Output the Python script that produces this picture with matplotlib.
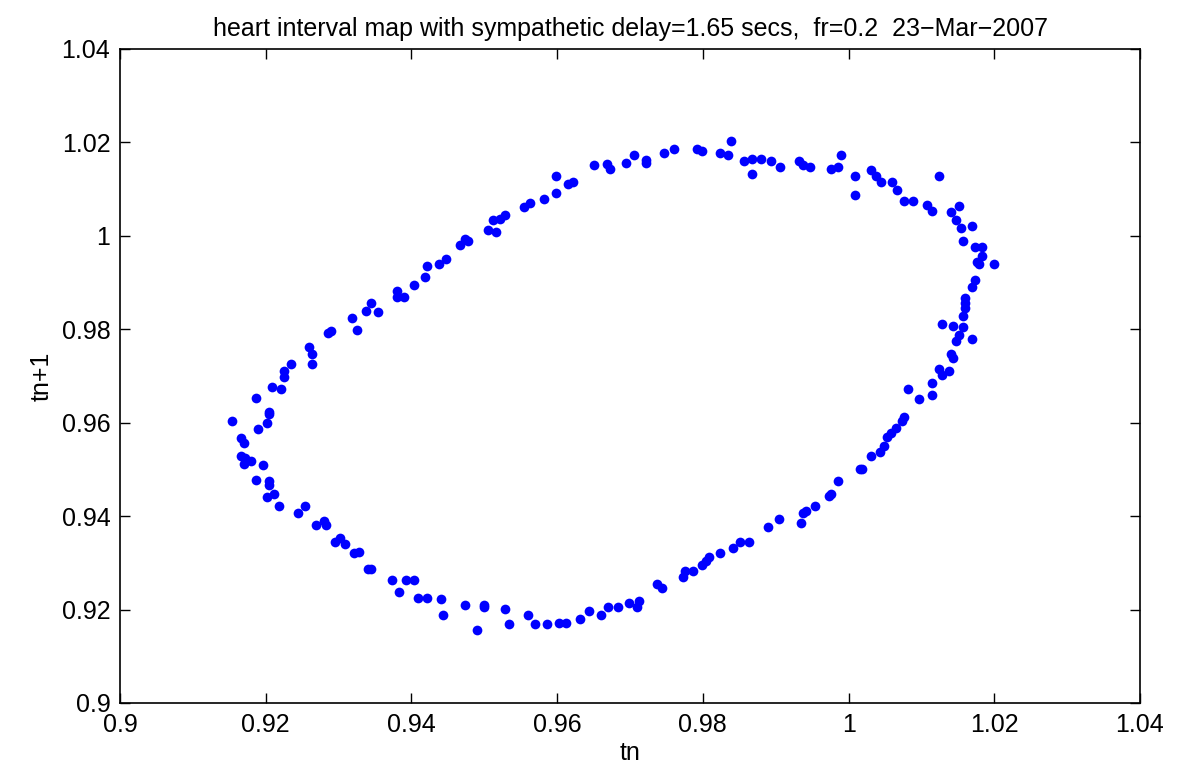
import numpy as np
import matplotlib
matplotlib.use("Agg")
import matplotlib.pyplot as plt

# successive heart intervals: tn on x, tn+1 on y
tn = [
    0.9344, 0.9338, 0.9354, 0.9318, 0.9325, 0.9285, 0.9290, 0.9260, 0.9264, 0.9264,
    0.9235, 0.9225, 0.9225, 0.9209, 0.9221, 0.9186, 0.9205, 0.9205, 0.9154, 0.9202,
    0.9189, 0.9166, 0.9170, 0.9166, 0.9171, 0.9170, 0.9180, 0.9196, 0.9186, 0.9205,
    0.9205, 0.9212, 0.9202, 0.9218, 0.9254, 0.9244, 0.9269, 0.9280, 0.9283, 0.9295,
    0.9302, 0.9309, 0.9321, 0.9328, 0.9341, 0.9344, 0.9373, 0.9383, 0.9392, 0.9403,
    0.9409, 0.9421, 0.9441, 0.9444, 0.9473, 0.9499, 0.9500, 0.9490, 0.9528, 0.9534,
    0.9560, 0.9570, 0.9586, 0.9602, 0.9612, 0.9631, 0.9644, 0.9660, 0.9670, 0.9683,
    0.9699, 0.9709, 0.9712, 0.9737, 0.9744, 0.9773, 0.9776, 0.9786, 0.9799, 0.9805,
    0.9808, 0.9824, 0.9841, 0.9851, 0.9863, 0.9889, 0.9905, 0.9935, 0.9938, 0.9941,
    0.9954, 0.9973, 0.9976, 0.9986, 1.0016, 1.0018, 1.0031, 1.0043, 1.0049, 1.0053,
    1.0058, 1.0065, 1.0073, 1.0076, 1.0096, 1.0082, 1.0115, 1.0115, 1.0128, 1.0124,
    1.0138, 1.0141, 1.0144, 1.0151, 1.0147, 1.0170, 1.0128, 1.0144, 1.0157, 1.0157,
    1.0160, 1.0160, 1.0160, 1.0170, 1.0173, 1.0176, 1.0179, 1.0199, 1.0183, 1.0173,
    1.0183, 1.0157, 1.0154, 1.0170, 1.0147, 1.0141, 1.0151, 1.0108, 1.0115, 1.0076,
    1.0089, 1.0067, 1.0060, 1.0044, 1.0038, 1.0031, 1.0124, 1.0009, 1.0009, 0.9989,
    0.9986, 0.9976, 0.9947, 0.9938, 0.9932, 0.9906, 0.9893, 0.9880, 0.9867, 0.9856,
    0.9867, 0.9838, 0.9835, 0.9824, 0.9799, 0.9792, 0.9760, 0.9747, 0.9722, 0.9722,
    0.9705, 0.9695, 0.9669, 0.9673, 0.9651, 0.9622, 0.9615, 0.9599, 0.9599, 0.9582,
    0.9563, 0.9554, 0.9528, 0.9522, 0.9512, 0.9505, 0.9516, 0.9467, 0.9473, 0.9477,
    0.9447, 0.9438, 0.9422, 0.9419, 0.9403, 0.9380, 0.9380, 0.9390,
]
tn1 = [
    0.9857, 0.9840, 0.9836, 0.9824, 0.9799, 0.9791, 0.9796, 0.9763, 0.9747, 0.9726,
    0.9726, 0.9710, 0.9697, 0.9677, 0.9672, 0.9652, 0.9623, 0.9619, 0.9603, 0.9599,
    0.9587, 0.9567, 0.9557, 0.9529, 0.9525, 0.9512, 0.9517, 0.9509, 0.9478, 0.9475,
    0.9467, 0.9447, 0.9440, 0.9422, 0.9422, 0.9406, 0.9381, 0.9390, 0.9381, 0.9344,
    0.9353, 0.9340, 0.9320, 0.9324, 0.9287, 0.9287, 0.9263, 0.9238, 0.9263, 0.9263,
    0.9225, 0.9225, 0.9222, 0.9188, 0.9209, 0.9209, 0.9205, 0.9156, 0.9201, 0.9168,
    0.9188, 0.9168, 0.9168, 0.9172, 0.9172, 0.9180, 0.9197, 0.9188, 0.9205, 0.9205,
    0.9213, 0.9205, 0.9218, 0.9255, 0.9246, 0.9270, 0.9283, 0.9283, 0.9295, 0.9304,
    0.9312, 0.9320, 0.9332, 0.9345, 0.9345, 0.9377, 0.9394, 0.9386, 0.9406, 0.9410,
    0.9422, 0.9443, 0.9447, 0.9476, 0.9500, 0.9500, 0.9529, 0.9537, 0.9550, 0.9569,
    0.9578, 0.9589, 0.9604, 0.9612, 0.9650, 0.9672, 0.9660, 0.9685, 0.9701, 0.9714,
    0.9710, 0.9747, 0.9738, 0.9788, 0.9775, 0.9779, 0.9812, 0.9808, 0.9804, 0.9829,
    0.9846, 0.9856, 0.9866, 0.9890, 0.9906, 0.9943, 0.9939, 0.9939, 0.9956, 0.9976,
    0.9976, 0.9988, 1.0017, 1.0021, 1.0033, 1.0051, 1.0063, 1.0067, 1.0054, 1.0075,
    1.0075, 1.0099, 1.0115, 1.0115, 1.0128, 1.0140, 1.0128, 1.0128, 1.0087, 1.0173,
    1.0148, 1.0144, 1.0148, 1.0152, 1.0161, 1.0148, 1.0160, 1.0165, 1.0165, 1.0160,
    1.0132, 1.0202, 1.0173, 1.0177, 1.0181, 1.0185, 1.0185, 1.0177, 1.0162, 1.0155,
    1.0173, 1.0156, 1.0153, 1.0144, 1.0152, 1.0115, 1.0111, 1.0128, 1.0091, 1.0078,
    1.0070, 1.0062, 1.0045, 1.0037, 1.0033, 1.0013, 1.0008, 0.9980, 0.9993, 0.9988,
    0.9951, 0.9939, 0.9936, 0.9911, 0.9894, 0.9882, 0.9870, 0.9870,
]

xticks = [0.9, 0.92, 0.94, 0.96, 0.98, 1.0, 1.02, 1.04]
yticks = [0.9, 0.92, 0.94, 0.96, 0.98, 1.0, 1.02, 1.04]
tick_labels = ["0.9", "0.92", "0.94", "0.96", "0.98", "1", "1.02", "1.04"]

plt.rcParams['font.family'] = ['Liberation Sans', 'DejaVu Sans']

fig = plt.figure(figsize=(11.87, 7.72), dpi=100)
ax = fig.add_axes([0.1011, 0.0894, 0.8593, 0.8472])

ax.plot(tn, tn1, 'o', color=(0, 0, 1), markersize=7, markeredgewidth=0)

ax.set_xlim(0.9, 1.04)
ax.set_ylim(0.9, 1.04)
ax.set_xticks(xticks)
ax.set_yticks(yticks)
ax.set_xticklabels(tick_labels)
ax.set_yticklabels(tick_labels)
ax.tick_params(direction='in', length=7, width=1, top=True, right=True,
               labelsize=18, pad=7)
for s in ax.spines.values():
    s.set_linewidth(1.2)

ax.set_title("heart interval map with sympathetic delay=1.65 secs,  fr=0.2  23\u2212Mar\u22122007",
             fontsize=18, pad=9)
ax.set_xlabel("tn", fontsize=18, labelpad=3)
ax.set_ylabel("tn+1", fontsize=18, labelpad=6)

fig.savefig("out.png", dpi=100)
